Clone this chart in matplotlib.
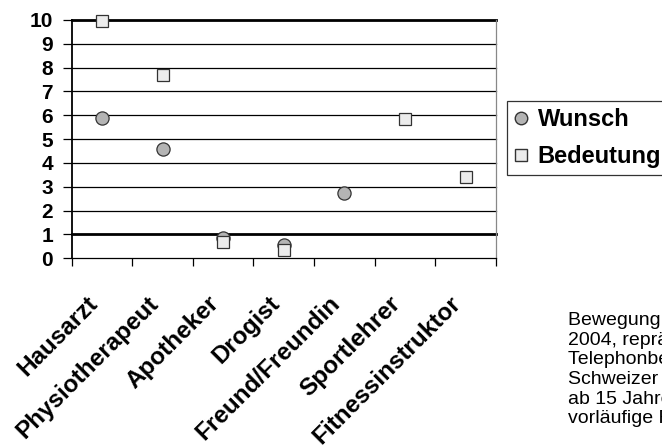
import matplotlib.pyplot as plt
import numpy as np
from matplotlib.lines import Line2D
from matplotlib.transforms import ScaledTranslation

categories = ["Hausarzt", "Physiotherapeut", "Apotheker", "Drogist",
              "Freund/Freundin", "Sportlehrer", "Fitnessinstruktor"]
wunsch = [5.9, 4.6, 0.85, 0.55, 2.75, np.nan, np.nan]
bedeutung = [9.95, 7.7, 0.7, 0.35, np.nan, 5.85, 3.4]
y_ticks = list(range(0, 11))
source_text = ("Bewegung und Sport in der Schweiz\n2004, repräsentative\n"
               "Telephonbefragung der\nSchweizer Wohnbevölkerung\n"
               "ab 15 Jahren,\nvorläufige Resultate")

plt.rcParams['font.family'] = ['Liberation Sans', 'DejaVu Sans']

fig = plt.figure(figsize=(6.62, 4.48), dpi=100)
ax = fig.add_axes([0.1083, 0.4234, 0.6407, 0.532])

x = np.arange(len(categories))
ax.set_xlim(-0.5, len(categories) - 0.5)
ax.set_ylim(0, 10)

# grid lines
for v in y_ticks[1:]:
    lw = 2.0 if v in (1, 10) else 0.9
    ax.axhline(v, color="black", lw=lw, zorder=1, clip_on=False)

circle_color = "#b4b4b4"
square_color = "#ececec"
ax.plot(x, wunsch, linestyle="none", marker="o", markersize=9.5,
        markerfacecolor=circle_color, markeredgecolor="#333333",
        markeredgewidth=0.9, zorder=3, clip_on=False)
ax.plot(x, bedeutung, linestyle="none", marker="s", markersize=8.8,
        markerfacecolor=square_color, markeredgecolor="#333333",
        markeredgewidth=0.9, zorder=4, clip_on=False)

# ticks
ax.set_yticks(y_ticks)
ax.set_yticklabels([str(v) for v in y_ticks], fontsize=15, fontweight="bold")
ax.tick_params(axis="y", length=6.5, width=0.9, pad=7, direction="out")

ax.set_xticks(np.arange(-0.5, len(categories)), minor=False)
ax.set_xticklabels([])
ax.tick_params(axis="x", which="major", length=6, width=0.9, direction="out")
ax.set_xticks(x, minor=True)
ax.set_xticklabels(categories, minor=True, rotation=45, ha="right",
                   va="center", rotation_mode="anchor",
                   fontsize=17.5, fontweight="bold")
ax.tick_params(axis="x", which="minor", length=0, pad=30)

shift = ScaledTranslation(-0.08, 0, fig.dpi_scale_trans)
for lab in ax.get_xticklabels(minor=True):
    lab.set_transform(lab.get_transform() + shift)

ax.spines["left"].set_linewidth(1.3)
ax.spines["bottom"].set_linewidth(0.9)
ax.spines["right"].set_color("#888888")
ax.spines["right"].set_linewidth(0.9)
ax.spines["top"].set_visible(False)

handles = [
    Line2D([], [], linestyle="none", marker="o", markersize=9,
           markerfacecolor=circle_color, markeredgecolor="#333333"),
    Line2D([], [], linestyle="none", marker="s", markersize=9,
           markerfacecolor=square_color, markeredgecolor="#333333"),
]
leg = fig.legend(handles, ["Wunsch", "Bedeutung"], loc="upper left",
                 bbox_to_anchor=(0.766, 0.7746), borderaxespad=0,
                 frameon=True, fancybox=False, handlelength=0.6,
                 handletextpad=0.4, borderpad=0.3, labelspacing=0.6,
                 prop={"size": 17, "weight": "bold"})
leg.get_frame().set_edgecolor("black")
leg.get_frame().set_linewidth(0.9)

fig.text(0.858, 0.303, source_text, fontsize=14, va="top", ha="left",
         linespacing=1.2)

fig.savefig("out.png", dpi=100)
